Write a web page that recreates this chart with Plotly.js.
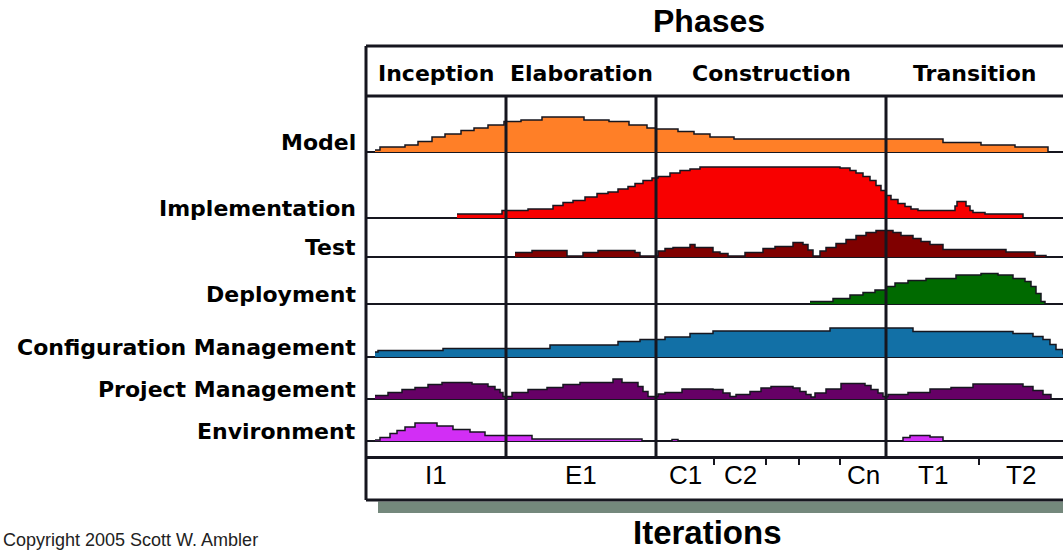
<!DOCTYPE html>
<html><head><meta charset="utf-8">
<script src="https://cdn.plot.ly/plotly-3.0.1.min.js"></script>
<style>html,body{margin:0;padding:0;background:#fff;} #chart{width:1063px;height:552px;}</style>
</head><body><div id="chart"></div>
<script>
// ---- Data ----
const disciplines = ["Model","Implementation","Test","Deployment","Configuration Management","Project Management","Environment"];
const phases = ["Inception","Elaboration","Construction","Transition"];
const phaseBounds = [0,140,290,520,697];
const iterationLabels = ["I1","E1","C1","C2","","","Cn","T1","T2"];
const iterationBounds = [0,140,290,348,400,433,474,520,613,697];

const modelX = [9,14,39,52,66,79,95,108,122,138,155,176,218,243,263,281,290,312,328,344,368,577,615,649,682];
const modelY = [2,5,7,10.5,15,18,21.5,24,27,30.5,32,35,32,30.5,27,24,23,20.5,18,15,13,9.5,7,5,0];

const implX = [91,136,162,187,197,207,219,231,242,252,262,269,277,286,292,304,314,324,334,474,484,490,497,504,510,515,520,525,532,539,545,552,589,591,600,604,607,619,657];
const implY = [4,7.5,9,12.5,15.5,17.5,21,24.5,26,29,31.5,34.5,37.5,40,41.5,45,47.5,49,51,50,47.5,45,41.5,37.5,32.5,27.5,22.5,18.5,14.5,11.5,9,7.5,12,16.5,12,7.5,5.5,4,0];

const testX = [149,166,201,217,232,269,274,292,299,307,324,329,347,354,362,379,397,409,427,437,442,447,454,460,470,480,490,500,510,527,535,547,555,564,577,640,669,680];
const testY = [4.5,6.5,1,4.5,6.5,4.5,1,6,8.5,9.5,12.5,9.5,5,3.5,1,4.5,8.5,10.5,14.5,12.5,7,1,6,9.5,13.5,17.5,21.5,24.5,26.5,24.5,21.5,18.5,15.5,12.5,7.5,5,1.5,0];

const deployX = [444,467,484,497,509,520,529,542,560,590,615,632,647,659,665,670,675,679];
const deployY = [2.5,5.5,9,11.5,14,17.5,21,23.5,25.5,29,30.5,29,25.5,22.5,17.5,10.5,2.5,0];

const configX = [9,12,77,184,252,274,299,324,347,464,547,647,667,677,684,690,697];
const configY = [5,6.5,8.5,12,15.5,17.5,20,23.5,26,29,25.5,23.5,20.5,17.5,12.5,7.5,2.5];

const pmX = [9,22,36,49,62,76,106,122,129,134,137,146,162,181,197,214,247,256,272,277,282,292,299,316,347,357,364,370,384,395,405,427,434,440,445,449,460,475,499,505,512,517,522,542,564,585,607,657,667,677,685];
const pmY = [3.5,6.5,9.5,11.5,14.5,16.5,15,12.5,9.5,6.5,2.5,6.5,9.5,11.5,14.5,16.5,20,16.5,12.5,7.5,2.5,5,6.5,10,9.5,6,2.5,4.5,7.5,11,12.5,11,7.5,4.5,2,6,10,15.5,13.5,9.5,6,2.5,4.5,6.5,10,11.5,15,12.5,8.5,4.5,0];

const envX = [9,14,24,31,39,49,71,87,104,119,166,276,306,312,537,544,564,577];
const envY = [1,3.5,7.5,10.5,14,18,15,11.5,9,5.5,2,0,1.5,0,3.5,5.5,4,0];

// ---- Styling / layout ----
const colors = ["#FF7F27","#F80000","#800000","#006A00","#1270A6","#660066","#D22EF5"];
const series = [[modelX,modelY],[implX,implY],[testX,testY],[deployX,deployY],[configX,configY],[pmX,pmY],[envX,envY]];

const W = 1063, H = 552, ML = 366, MT = 46, MB = 52;
const PH = H - MT - MB;
const py = p => (H - MB - p) / PH;           // pixel row -> paper y
const pw = W - ML;
const px = p => (p - ML) / pw;                // pixel col -> paper x
const baselinesPx = [152,218,257,304,357,399,441];
const bandH = 55;
const ink = "#16161f";

const traces = [];
const layout = {
  width: W, height: H,
  margin: {l: ML, r: 0, t: MT, b: MB, pad: 0},
  paper_bgcolor: "#ffffff", plot_bgcolor: "rgba(0,0,0,0)",
  showlegend: false,
  xaxis: {
    range: [0, 697], anchor: "free", position: py(457), domain: [0, 1],
    showline: true, linecolor: ink, linewidth: 3, mirror: false,
    showgrid: false, zeroline: false, showticklabels: false,
    tickmode: "array",
    tickvals: iterationBounds.filter(b => phaseBounds.indexOf(b) < 0),
    ticks: "outside", ticklen: 6, tickwidth: 2, tickcolor: ink, fixedrange: true
  },
  annotations: [], shapes: []
};

baselinesPx.forEach((b, i) => {
  const key = i === 0 ? "yaxis" : "yaxis" + (i + 1);
  const ref = i === 0 ? "y" : "y" + (i + 1);
  layout[key] = {
    domain: [py(b + 1), py(b - bandH)], range: [-1, bandH], anchor: "x",
    showgrid: false, zeroline: true, zerolinecolor: ink, zerolinewidth: 2,
    showticklabels: false, ticks: "", showline: false, fixedrange: true
  };
  traces.push({
    type: "scatter", mode: "lines", x: series[i][0], y: series[i][1],
    xaxis: "x", yaxis: ref, fill: "tozeroy", fillcolor: colors[i],
    line: {shape: "hv", color: ink, width: 1.5}, hoverinfo: "skip", name: disciplines[i]
  });
  layout.annotations.push({
    text: disciplines[i], xref: "paper", x: px(358), xanchor: "right",
    yref: ref, y: 10, yanchor: "middle", showarrow: false,
    font: {family: "DejaVu Sans", size: 22, color: "#000", weight: "bold"}
  });
});

// phase labels and dividers
phases.forEach((p, i) => {
  layout.annotations.push({
    text: p, xref: "x", x: (phaseBounds[i] + phaseBounds[i + 1]) / 2, xanchor: "center",
    yref: "paper", y: py(73), yanchor: "middle", showarrow: false,
    font: {family: "DejaVu Sans", size: 22, color: "#000", weight: "bold"}
  });
});
phaseBounds.slice(1, -1).forEach(b => {
  layout.shapes.push({type: "line", xref: "x", x0: b, x1: b, yref: "paper", y0: py(457), y1: py(96),
    line: {color: ink, width: 3}, layer: "above"});
});

// iteration labels
iterationLabels.forEach((lab, i) => {
  if (!lab) return;
  layout.annotations.push({
    text: lab, xref: "x", x: (iterationBounds[i] + iterationBounds[i + 1]) / 2, xanchor: "center",
    yref: "paper", y: py(475), yanchor: "middle", showarrow: false,
    font: {family: "Liberation Sans", size: 26, color: "#000"}
  });
});

// frame
layout.shapes.push(
  {type: "rect", xref: "paper", yref: "paper", x0: px(378), x1: 1.05, y0: py(513), y1: py(501.5),
   fillcolor: "#74887c", line: {width: 0}, layer: "below"},
  {type: "line", xref: "paper", yref: "paper", x0: 0, x1: 1.05, y0: py(96), y1: py(96), line: {color: ink, width: 3}},
  {type: "line", xref: "paper", yref: "paper", x0: 0, x1: 1.05, y0: 1, y1: 1, line: {color: ink, width: 3}},
  {type: "line", xref: "paper", yref: "paper", x0: 0, x1: 1.05, y0: 0, y1: 0, line: {color: ink, width: 3}},
  {type: "line", xref: "paper", yref: "paper", x0: 0, x1: 0, y0: 0, y1: 1, line: {color: ink, width: 3}}
);

// titles
layout.annotations.push(
  {text: "Phases", xref: "paper", x: px(709), xanchor: "center", yref: "paper", y: py(21), yanchor: "middle",
   showarrow: false, font: {family: "Liberation Sans", size: 32, color: "#000", weight: "bold"}},
  {text: "Iterations", xref: "paper", x: px(707), xanchor: "center", yref: "paper", y: py(532), yanchor: "middle",
   showarrow: false, font: {family: "Liberation Sans", size: 33, color: "#000", weight: "bold"}},
  {text: "Copyright 2005 Scott W. Ambler", xref: "paper", x: px(1), xanchor: "left", yref: "paper", y: py(540), yanchor: "middle",
   showarrow: false, font: {family: "Liberation Sans", size: 18, color: "#222"}}
);

Plotly.newPlot("chart", traces, layout, {displayModeBar: false, staticPlot: true});
</script>
</body></html>
